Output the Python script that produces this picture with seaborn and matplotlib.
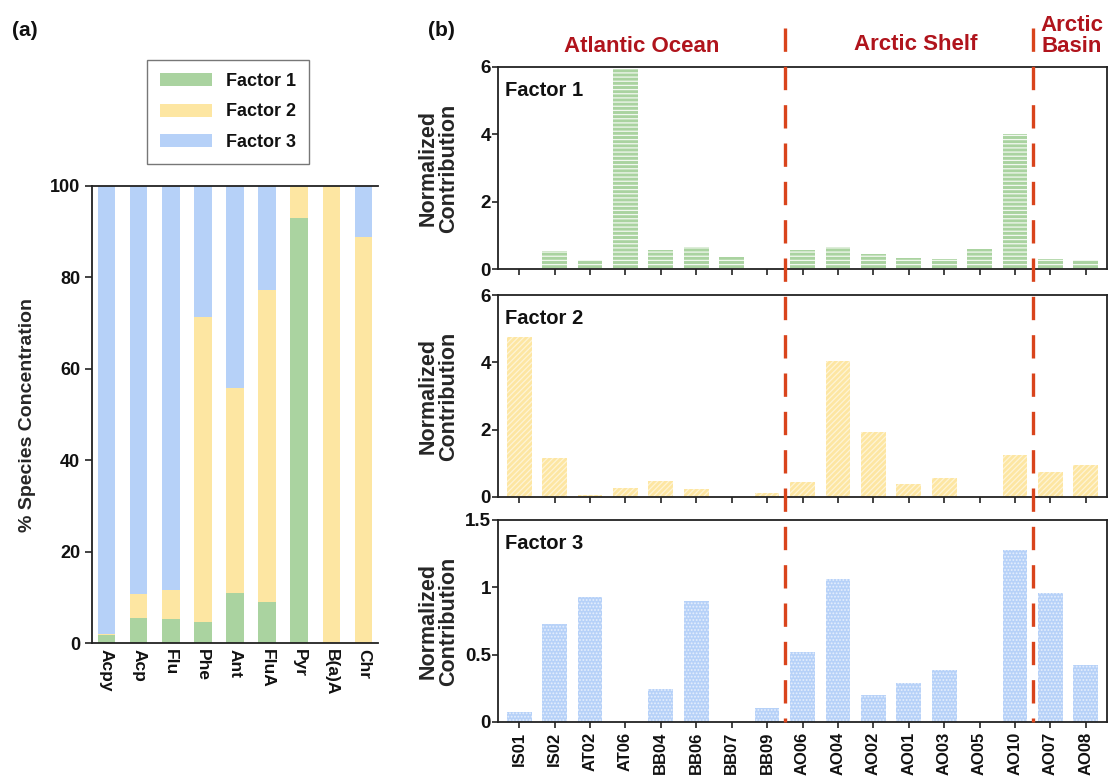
import numpy as np
import pandas as pd
import matplotlib
matplotlib.use("Agg")
from matplotlib import pyplot as plt
from matplotlib.patches import Patch
from matplotlib.lines import Line2D
from matplotlib.ticker import FuncFormatter, MultipleLocator
import matplotlib.transforms as mtransforms
import seaborn as sns

# (a) percent of each PAH species explained by each factor
SPECIES = ['Acpy', 'Acp', 'Flu', 'Phe', 'Ant', 'FluA', 'Pyr', 'B(a)A', 'Chr']
PCT_F1 = [1.7, 5.5, 5.3, 4.6, 10.9, 9.0, 92.9, 0.0, 0.0]
PCT_F2 = [0.3, 5.2, 6.4, 66.7, 44.8, 68.3, 7.1, 100.0, 88.9]
PCT_F3 = [100.0 - a - b for a, b in zip(PCT_F1, PCT_F2)]

# (b) normalized contributions per station
STATIONS = ['IS01', 'IS02', 'AT02', 'AT06', 'BB04', 'BB06', 'BB07', 'BB09',
            'AO06', 'AO04', 'AO02', 'AO01', 'AO03', 'AO05', 'AO10', 'AO07', 'AO08']
CONTRIB_F1 = [0.0, 0.52, 0.26, 5.93, 0.57, 0.66, 0.35, 0.0,
              0.57, 0.65, 0.45, 0.32, 0.30, 0.60, 4.01, 0.29, 0.27]
CONTRIB_F2 = [4.76, 1.15, 0.07, 0.27, 0.48, 0.24, 0.0, 0.11,
              0.45, 4.04, 1.93, 0.40, 0.55, 0.0, 1.25, 0.74, 0.95]
CONTRIB_F3 = [0.075, 0.73, 0.93, 0.0, 0.246, 0.90, 0.0, 0.104,
              0.52, 1.06, 0.20, 0.29, 0.385, 0.0, 1.276, 0.958, 0.42]
REGIONS = ['Atlantic Ocean', 'Arctic Shelf', 'Arctic\nBasin']
BOUNDARIES = [7.5, 14.5]

GREEN = '#aad3a0'
YELLOW = '#fde6a2'
BLUE = '#b6d1f8'
RED_TXT = '#b0141c'
RED_LINE = '#d9441c'
DARK = '#222222'

sns.set_style("ticks")
plt.rcParams['font.family'] = ['Liberation Sans', 'DejaVu Sans']
plt.rcParams['font.weight'] = 'bold'
plt.rcParams['axes.labelweight'] = 'bold'
plt.rcParams['text.color'] = '#111111'
plt.rcParams['xtick.color'] = '#111111'
plt.rcParams['ytick.color'] = '#111111'
plt.rcParams['hatch.linewidth'] = 0.9

W, H = 1113, 780
fig = plt.figure(figsize=(W / 100, H / 100), dpi=100)


def frac(l, t, r, b):
    return [l / W, 1 - b / H, (r - l) / W, (b - t) / H]


# ---------- panel (a): stacked percentages ----------
axa = fig.add_axes(frac(92, 186, 378, 643))
cum2 = [a + b for a, b in zip(PCT_F1, PCT_F2)]
cum3 = [a + b for a, b in zip(cum2, PCT_F3)]
for vals, col in [(cum3, BLUE), (cum2, YELLOW), (PCT_F1, GREEN)]:
    sns.barplot(x=SPECIES, y=vals, color=col, width=0.55, ax=axa,
                saturation=1, linewidth=0)
axa.set_xlim(-0.45, 8.45)
axa.set_ylim(0, 100)
axa.yaxis.set_major_locator(MultipleLocator(20))
axa.set_ylabel('% Species Concentration', fontsize=14, labelpad=10)
axa.tick_params(axis='y', labelsize=13, direction='out', length=5, width=1.2, color=DARK)
axa.tick_params(axis='x', labelsize=12.5, length=0, pad=4)
plt.setp(axa.get_xticklabels(), rotation=-90, fontweight='bold')
plt.setp(axa.get_yticklabels(), fontweight='bold')
for s in ['left', 'bottom', 'top']:
    axa.spines[s].set_linewidth(1.3)
    axa.spines[s].set_color(DARK)
axa.spines['right'].set_visible(False)

handles = [Patch(facecolor=c, edgecolor='none', label=f'Factor {i + 1}')
           for i, c in enumerate([GREEN, YELLOW, BLUE])]
leg = fig.legend(handles=handles, loc='center', bbox_to_anchor=(228 / W, 1 - 112 / H),
                 fontsize=13, frameon=True, fancybox=False, edgecolor='#555555',
                 handlelength=2.9, handleheight=0.75, labelspacing=0.75,
                 borderpad=0.7, handletextpad=0.8)
leg.get_frame().set_linewidth(1.0)
for t in leg.get_texts():
    t.set_fontweight('bold')

# ---------- panel (b): normalized contributions ----------
panels = [
    (frac(498, 67, 1107, 269), CONTRIB_F1, GREEN, '----', (1, 1, 1, 0.85), 6, 'Factor 1'),
    (frac(498, 295, 1107, 497), CONTRIB_F2, YELLOW, '//////', (1, 1, 1, 0.55), 6, 'Factor 2'),
    (frac(498, 520, 1107, 722), CONTRIB_F3, BLUE, '.....', (1, 1, 1, 0.6), 1.5, 'Factor 3'),
]
axes_b = []
for rect, vals, col, hatch, hcol, ymax, name in panels:
    ax = fig.add_axes(rect)
    sns.barplot(x=STATIONS, y=vals, color=col, width=0.7, ax=ax, saturation=1,
                hatch=hatch, edgecolor=hcol, linewidth=0)
    ax.set_xlim(-0.6, 16.6)
    ax.set_ylim(0, ymax)
    if ymax == 6:
        ax.yaxis.set_major_locator(MultipleLocator(2))
    else:
        ax.yaxis.set_major_locator(MultipleLocator(0.5))
    ax.yaxis.set_major_formatter(FuncFormatter(lambda v, p: f'{v:g}'))
    ax.set_ylabel('Normalized\nContribution', fontsize=15.5, linespacing=0.95)
    ax.yaxis.set_label_coords(-0.064, 0.5)
    ax.tick_params(axis='both', direction='out', length=4, width=1.2, color=DARK)
    ax.tick_params(axis='y', labelsize=13.5, pad=1)
    plt.setp(ax.get_yticklabels(), fontweight='bold')
    for s in ax.spines.values():
        s.set_linewidth(1.3)
        s.set_color(DARK)
    ax.text(0.012, 0.93, name, transform=ax.transAxes, ha='left', va='top',
            fontsize=14.5, fontweight='bold', color='#111111')
    axes_b.append(ax)

for ax in axes_b[:2]:
    ax.set_xticklabels([])
ax3 = axes_b[2]
ax3.tick_params(axis='x', labelsize=12, pad=3)
plt.setp(ax3.get_xticklabels(), rotation=90, fontweight='bold')

# region separators and labels
trans = mtransforms.blended_transform_factory(ax3.transData, fig.transFigure)
for xb in BOUNDARIES:
    fig.add_artist(Line2D([xb, xb], [1 - 28 / H, 1 - 722 / H], transform=trans,
                          color=RED_LINE, linewidth=2.4, linestyle=(0, (7, 4.5))))
for xr, yr, label in zip([3.45, 11.2, 15.6], [1 - 47 / H, 1 - 45 / H, 1 - 36 / H], REGIONS):
    fig.text(xr, yr, label, transform=trans, ha='center', va='center',
             fontsize=16, fontweight='bold', color=RED_TXT, linespacing=1.05)

fig.text(12 / W, 1 - 30 / H, '(a)', fontsize=15, fontweight='bold', va='center')
fig.text(428 / W, 1 - 30 / H, '(b)', fontsize=15, fontweight='bold', va='center')

fig.savefig('out.png', dpi=100)
